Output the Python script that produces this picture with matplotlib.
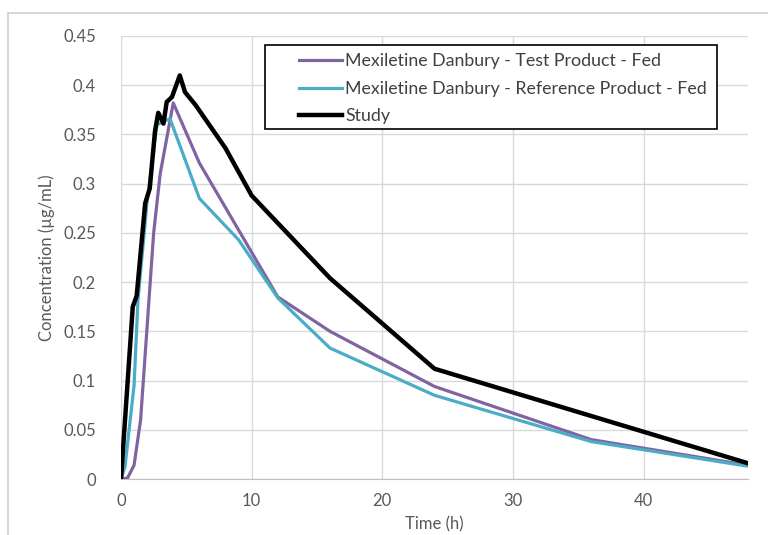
import matplotlib.pyplot as plt
from matplotlib.patches import Rectangle
from matplotlib.ticker import FuncFormatter

# Test product (fed)
t_test = [0, 0.5, 1, 1.5, 2, 2.5, 3, 4, 6, 12, 16, 24, 36, 48]
c_test = [0, 0.001, 0.014, 0.06, 0.155, 0.25, 0.31, 0.382, 0.321, 0.185, 0.15, 0.094, 0.040, 0.014]

# Reference product (fed)
t_ref = [0, 0.3, 1, 1.3, 2, 2.5, 2.75, 3.75, 6, 9, 12, 16, 24, 36, 48]
c_ref = [0, 0.012, 0.095, 0.182, 0.282, 0.335, 0.36, 0.366, 0.285, 0.243, 0.184, 0.133, 0.085, 0.038, 0.013]

# Study
t_study = [0, 0.9, 1.2, 1.85, 2.2, 2.6, 2.85, 3.25, 3.5, 3.9, 4.5, 4.9, 5.7, 8, 10, 16, 24, 48]
c_study = [0, 0.175, 0.186, 0.28, 0.295, 0.353, 0.372, 0.361, 0.383, 0.388, 0.41, 0.393,
           0.38, 0.336, 0.288, 0.204, 0.112, 0.016]

labels = ["Mexiletine Danbury - Test Product - Fed",
          "Mexiletine Danbury - Reference Product - Fed",
          "Study"]

plt.rcParams['font.family'] = ['Lato', 'DejaVu Sans']
grey = "#595959"
W, H = 768, 535

fig = plt.figure(figsize=(7.68, 5.35), dpi=100)
# outer chart border
fig.patches.append(Rectangle((8 / W, -0.01), 1.0, 1 - 13 / H + 0.01, transform=fig.transFigure,
                             fill=False, edgecolor="#d0d0d0", linewidth=1.2))

ax = fig.add_axes([121 / W, 1 - 479 / H, (748 - 121) / W, (479 - 36) / H])

ax.plot(t_test, c_test, color="#8064A2", linewidth=2.3, label=labels[0])
ax.plot(t_ref, c_ref, color="#4BACC6", linewidth=2.3, label=labels[1])
ax.plot(t_study, c_study, color="black", linewidth=3.2, label=labels[2])

ax.set_xlim(0, 48)
ax.set_ylim(0, 0.45)
ax.set_xticks([0, 10, 20, 30, 40])
ax.set_yticks([0, 0.05, 0.1, 0.15, 0.2, 0.25, 0.3, 0.35, 0.4, 0.45])
ax.yaxis.set_major_formatter(FuncFormatter(lambda v, p: "0" if v == 0 else ("%.2f" % v).rstrip("0")))

ax.grid(True, color="#d9d9d9", linewidth=1)
ax.set_axisbelow(True)
for s in ["left", "right", "top"]:
    ax.spines[s].set_visible(False)
ax.spines["bottom"].set_color("#bfbfbf")
ax.tick_params(length=0, labelsize=12, labelcolor=grey)
ax.tick_params(axis="y", pad=18)
ax.tick_params(axis="x", pad=10)

ax.set_xlabel("Time (h)", fontsize=12, color=grey, labelpad=5)
ax.set_ylabel("Concentration (µg/mL)", fontsize=12, color=grey, labelpad=6)

# legend box drawn separately, entries placed inside it
box = Rectangle((265 / W, 1 - 129 / H), (717 - 265) / W, (129 - 45) / H,
                transform=fig.transFigure, facecolor="white", edgecolor="black",
                linewidth=1.2, zorder=5, clip_on=False)
ax.add_patch(box)
leg = ax.legend(loc="upper left", bbox_to_anchor=(299 / W, 1 - 53 / H), bbox_transform=fig.transFigure,
                fontsize=12.8, frameon=False, handlelength=2.4, handletextpad=0.2, borderpad=0,
                labelspacing=0.66, borderaxespad=0)
leg.set_zorder(6)
for txt in leg.get_texts():
    txt.set_color("#404040")

fig.savefig("out.png", dpi=100)
